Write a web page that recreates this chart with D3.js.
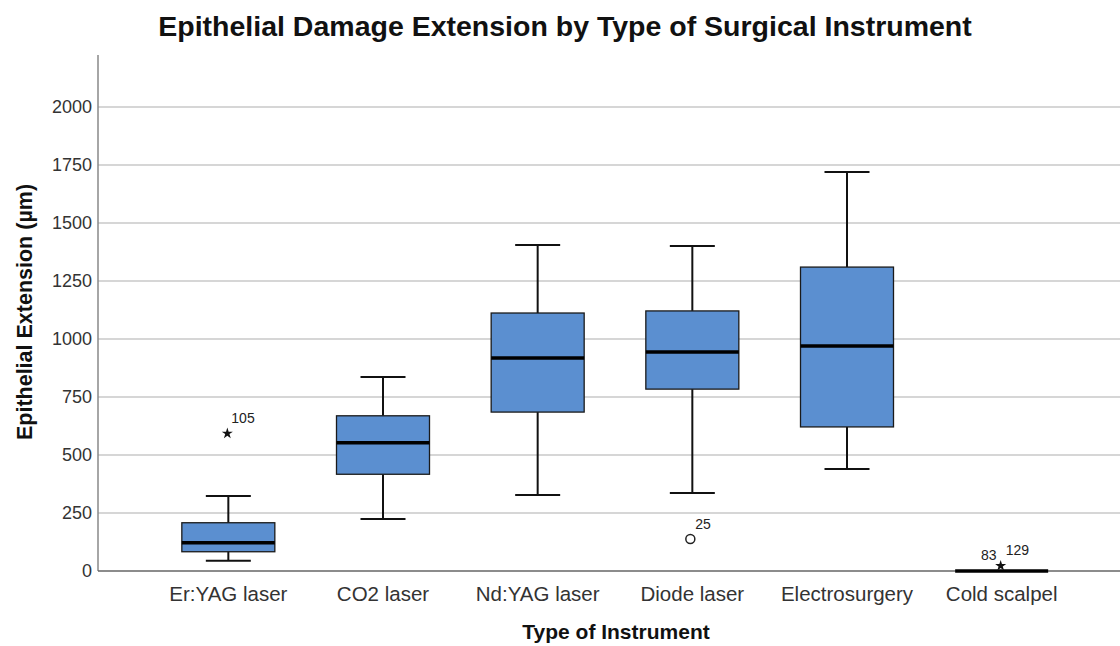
<!DOCTYPE html>
<html>
<head>
<meta charset="utf-8">
<script src="https://cdn.jsdelivr.net/npm/d3@7"></script>
<style>
  body { margin: 0; background: #fff; }
  text { font-family: "Liberation Sans", Arial, sans-serif; }
</style>
</head>
<body>
<div id="chart"></div>
<script>
// Data
var instruments = ['Er:YAG laser', 'CO2 laser', 'Nd:YAG laser', 'Diode laser', 'Electrosurgery', 'Cold scalpel'];
var whiskerLow  = [44, 224, 328, 336, 440, 0];
var boxLow      = [83, 417, 685, 784, 621, 0];
var medians     = [122, 553, 918, 944, 970, 0];
var boxHigh     = [208, 669, 1112, 1121, 1310, 0];
var whiskerHigh = [323, 836, 1405, 1401, 1720, 0];

// Outliers: category, value, kind ('star' extreme / 'circle' outlier), label
var outlierCat   = ['Er:YAG laser', 'Diode laser', 'Cold scalpel'];
var outlierVal   = [593, 138, 22];
var outlierKind  = ['star', 'circle', 'star'];
var outlierLabel = ['105', '25', '83 129'];

var yTicks = [0, 250, 500, 750, 1000, 1250, 1500, 1750, 2000];

var width = 1120, height = 646;
var plot = { left: 98, right: 1120, top: 55, bottom: 571 };

var svg = d3.select('#chart')
    .append('svg')
    .attr('width', width)
    .attr('height', height);

var x = d3.scaleBand()
    .domain(instruments)
    .range([151, 1079]);

var y = d3.scaleLinear()
    .domain([0, 2000])
    .range([plot.bottom, 107]);

var boxW = 93, capW = 45;

// Gridlines
svg.append('g')
    .selectAll('line')
    .data(yTicks.slice(1))
    .enter()
    .append('line')
    .attr('x1', plot.left)
    .attr('x2', plot.right)
    .attr('y1', d => y(d))
    .attr('y2', d => y(d))
    .attr('stroke', '#c8c8c8')
    .attr('stroke-width', 1.3);

// Y axis
var yAxis = d3.axisLeft(y).tickValues(yTicks).tickFormat(d3.format('d')).tickSize(0).tickPadding(6);
var yG = svg.append('g')
    .attr('transform', `translate(${plot.left},0)`)
    .call(yAxis);
yG.select('.domain').remove();
yG.selectAll('text').attr('font-size', 18).attr('fill', '#333');

svg.append('line')
    .attr('x1', plot.left).attr('x2', plot.left)
    .attr('y1', plot.top).attr('y2', plot.bottom)
    .attr('stroke', '#888').attr('stroke-width', 1.5);

// X axis
var xAxis = d3.axisBottom(x).tickSize(0);
var xG = svg.append('g')
    .attr('transform', `translate(0,${plot.bottom})`)
    .call(xAxis);
xG.select('.domain').remove();
xG.selectAll('text')
    .attr('font-size', 20.5)
    .attr('fill', '#333')
    .attr('dy', null)
    .attr('y', 30);

svg.append('line')
    .attr('x1', plot.left).attr('x2', plot.right)
    .attr('y1', plot.bottom).attr('y2', plot.bottom)
    .attr('stroke', '#666').attr('stroke-width', 1.5);

// Boxes
var rows = instruments.map(function (c, i) {
    return { cat: c, wl: whiskerLow[i], q1: boxLow[i], med: medians[i], q3: boxHigh[i], wh: whiskerHigh[i] };
});

var g = svg.append('g').selectAll('g')
    .data(rows)
    .enter()
    .append('g')
    .attr('transform', d => `translate(${x(d.cat) + x.bandwidth() / 2},0)`);

g.filter(d => d.wh > d.wl).each(function (d) {
    var s = d3.select(this);
    // whiskers
    s.append('line').attr('x1', 0).attr('x2', 0).attr('y1', y(d.q3)).attr('y2', y(d.wh))
        .attr('stroke', '#111').attr('stroke-width', 2);
    s.append('line').attr('x1', 0).attr('x2', 0).attr('y1', y(d.q1)).attr('y2', y(d.wl))
        .attr('stroke', '#111').attr('stroke-width', 2);
    s.append('line').attr('x1', -capW / 2).attr('x2', capW / 2).attr('y1', y(d.wh)).attr('y2', y(d.wh))
        .attr('stroke', '#111').attr('stroke-width', 2);
    s.append('line').attr('x1', -capW / 2).attr('x2', capW / 2).attr('y1', y(d.wl)).attr('y2', y(d.wl))
        .attr('stroke', '#111').attr('stroke-width', 2);
    // box
    s.append('rect')
        .attr('x', -boxW / 2)
        .attr('width', boxW)
        .attr('y', y(d.q3))
        .attr('height', y(d.q1) - y(d.q3))
        .attr('fill', '#5b8fd0')
        .attr('stroke', '#1a1a1a')
        .attr('stroke-width', 1.3);
});

// Medians (also draws the flat cold scalpel box)
g.append('line')
    .attr('x1', -boxW / 2).attr('x2', boxW / 2)
    .attr('y1', d => y(d.med)).attr('y2', d => y(d.med))
    .attr('stroke', '#000').attr('stroke-width', 3.5);

// Outliers
var star = d3.symbol().type(d3.symbolStar).size(38);
outlierCat.forEach(function (c, i) {
    var cx = x(c) + x.bandwidth() / 2;
    var cy = y(outlierVal[i]);
    if (outlierKind[i] === 'star') {
        svg.append('path')
            .attr('d', star)
            .attr('transform', `translate(${cx - 1},${cy})`)
            .attr('fill', '#111');
    } else {
        svg.append('circle')
            .attr('cx', cx - 2).attr('cy', cy).attr('r', 4.5)
            .attr('fill', 'none').attr('stroke', '#222').attr('stroke-width', 1.5);
    }
    var parts = outlierLabel[i].split(' ');
    if (parts.length === 1) {
        svg.append('text')
            .attr('x', cx + 3).attr('y', cy - 10)
            .attr('font-size', 14).attr('fill', '#222')
            .text(parts[0]);
    } else {
        svg.append('text')
            .attr('x', cx - 5).attr('y', cy - 6)
            .attr('text-anchor', 'end')
            .attr('font-size', 14).attr('fill', '#222')
            .text(parts[0]);
        svg.append('text')
            .attr('x', cx + 4).attr('y', cy - 11)
            .attr('font-size', 14).attr('fill', '#222')
            .text(parts[1]);
    }
});

// Titles
svg.append('text')
    .attr('x', 565).attr('y', 36)
    .attr('text-anchor', 'middle')
    .attr('font-size', 28.5).attr('font-weight', 'bold').attr('fill', '#111')
    .text('Epithelial Damage Extension by Type of Surgical Instrument');

svg.append('text')
    .attr('x', 616).attr('y', 639)
    .attr('text-anchor', 'middle')
    .attr('font-size', 21).attr('font-weight', 'bold').attr('fill', '#111')
    .text('Type of Instrument');

svg.append('text')
    .attr('transform', 'rotate(-90)')
    .attr('x', -312)
    .attr('y', 32)
    .attr('text-anchor', 'middle')
    .attr('font-size', 21.5).attr('font-weight', 'bold').attr('fill', '#111')
    .text('Epithelial Extension (µm)');
</script>
</body>
</html>
